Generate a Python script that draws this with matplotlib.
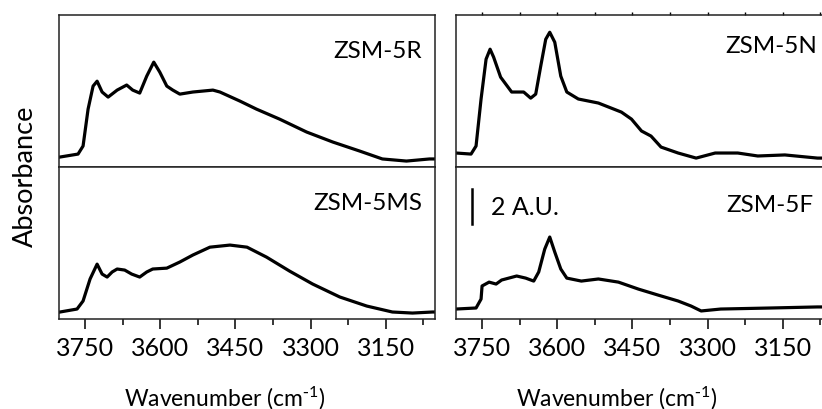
import matplotlib.pyplot as plt
from matplotlib.ticker import MultipleLocator

plt.rcParams['font.family'] = ['Lato', 'DejaVu Sans']
plt.rcParams['mathtext.default'] = 'regular'

# ZSM-5R (top left)
wn_r = [3800, 3764, 3754, 3744, 3734, 3726, 3716, 3704, 3686, 3667, 3655, 3641, 3627, 3613,
        3601, 3587, 3575, 3561, 3535, 3495, 3481, 3441, 3408, 3362, 3308, 3256, 3202, 3157,
        3109, 3063, 3050]
abs_r = [0.57, 0.74, 1.2, 3.31, 4.63, 4.91, 4.29, 4.0, 4.4, 4.69, 4.4, 4.23, 5.2, 6.0,
         5.43, 4.63, 4.4, 4.17, 4.29, 4.4, 4.29, 3.77, 3.31, 2.74, 2.0, 1.43, 0.91, 0.46,
         0.34, 0.46, 0.46]

# ZSM-5MS (bottom left)
wn_ms = [3800, 3766, 3754, 3740, 3726, 3716, 3706, 3696, 3686, 3671, 3657, 3641, 3627, 3615,
         3587, 3561, 3535, 3501, 3461, 3427, 3388, 3342, 3296, 3242, 3188, 3137, 3097, 3057, 3050]
abs_ms = [0.40, 0.57, 1.03, 2.29, 3.14, 2.57, 2.40, 2.69, 2.86, 2.80, 2.57, 2.40, 2.69, 2.86,
          2.91, 3.26, 3.66, 4.11, 4.23, 4.11, 3.54, 2.74, 2.00, 1.26, 0.74, 0.40, 0.34, 0.40, 0.40]

# ZSM-5N (top right)
wn_n = [3802, 3772, 3762, 3752, 3742, 3734, 3727, 3713, 3691, 3667, 3653, 3643, 3633, 3623,
        3615, 3605, 3593, 3581, 3558, 3518, 3472, 3452, 3432, 3413, 3393, 3359, 3323, 3285,
        3240, 3200, 3146, 3081, 3050]
abs_n = [0.8, 0.74, 1.2, 3.89, 6.17, 6.74, 6.29, 5.14, 4.29, 4.29, 3.94, 4.17, 5.77, 7.31,
         7.71, 7.14, 5.2, 4.29, 3.89, 3.66, 3.14, 2.74, 2.06, 1.77, 1.14, 0.8, 0.51, 0.8,
         0.8, 0.63, 0.69, 0.51, 0.51]

# ZSM-5F (bottom right)
wn_f = [3802, 3762, 3752, 3750, 3736, 3722, 3711, 3681, 3663, 3647, 3637, 3625, 3615, 3605,
        3593, 3581, 3552, 3518, 3478, 3438, 3399, 3359, 3333, 3313, 3274, 3174, 3081, 3050]
abs_f = [0.57, 0.63, 1.14, 1.89, 2.11, 2.00, 2.23, 2.46, 2.34, 2.17, 2.69, 4.00, 4.69, 3.83,
         2.86, 2.34, 2.17, 2.29, 2.11, 1.71, 1.37, 1.03, 0.74, 0.46, 0.57, 0.63, 0.69, 0.69]

names = ["ZSM-5R", "ZSM-5MS", "ZSM-5N", "ZSM-5F"]

fig = plt.figure(figsize=(8.22, 4.10), dpi=100)
W = 376 / 822
H = 0.37
ax_r = fig.add_axes([59 / 822, 1 - 168 / 410, W, H])
ax_ms = fig.add_axes([59 / 822, 1 - 320 / 410, W, H])
ax_n = fig.add_axes([456 / 822, 1 - 168 / 410, W, H])
ax_f = fig.add_axes([456 / 822, 1 - 320 / 410, W, H])

data = [(ax_r, wn_r, abs_r), (ax_ms, wn_ms, abs_ms), (ax_n, wn_n, abs_n), (ax_f, wn_f, abs_f)]
label_pos = [(0.965, 0.766), (0.965, 0.77), (0.96, 0.80), (0.95, 0.757)]

for (ax, x, y), name, (lx, ly) in zip(data, names, label_pos):
    ax.plot(x, y, color="black", lw=2.3)
    ax.set_xlim(3802, 3052)
    ax.set_ylim(0, 8.68)
    ax.set_yticks([])
    for s in ax.spines.values():
        s.set_linewidth(1.1)
        s.set_color("#222222")
    ax.text(lx, ly, name, transform=ax.transAxes, ha="right", va="center", fontsize=17.5)
    ax.xaxis.set_major_locator(MultipleLocator(150))
    ax.xaxis.set_minor_locator(MultipleLocator(75))
    ax.tick_params(axis="x", which="major", direction="out", length=7.5, width=1.1,
                   labelsize=18, pad=5)
    ax.tick_params(axis="x", which="minor", direction="out", length=4.5, width=1.1)

for ax in [ax_r, ax_n]:
    ax.tick_params(axis="x", which="both", bottom=False, labelbottom=False)

# small ticks along the top of the upper right panel
ax_n.tick_params(axis="x", which="both", top=True, length=2, width=1)

# scale bar
ax_f.plot([3770, 3770], [5.43, 7.43], color="black", lw=1.8)
ax_f.text(3732, 6.43, "2 A.U.", ha="left", va="center", fontsize=18)

fig.text(25 / 822, 1 - 176 / 410, "Absorbance", rotation=90, ha="center", va="center",
         fontsize=19.5)
xlab = "Wavenumber (cm$^{\\text{-}1}$)"
fig.text(225 / 822, 1 - 398 / 410, xlab, ha="center", va="center", fontsize=16.5)
fig.text(617 / 822, 1 - 398 / 410, xlab, ha="center", va="center", fontsize=16.5)

fig.savefig("out.png", dpi=100)
